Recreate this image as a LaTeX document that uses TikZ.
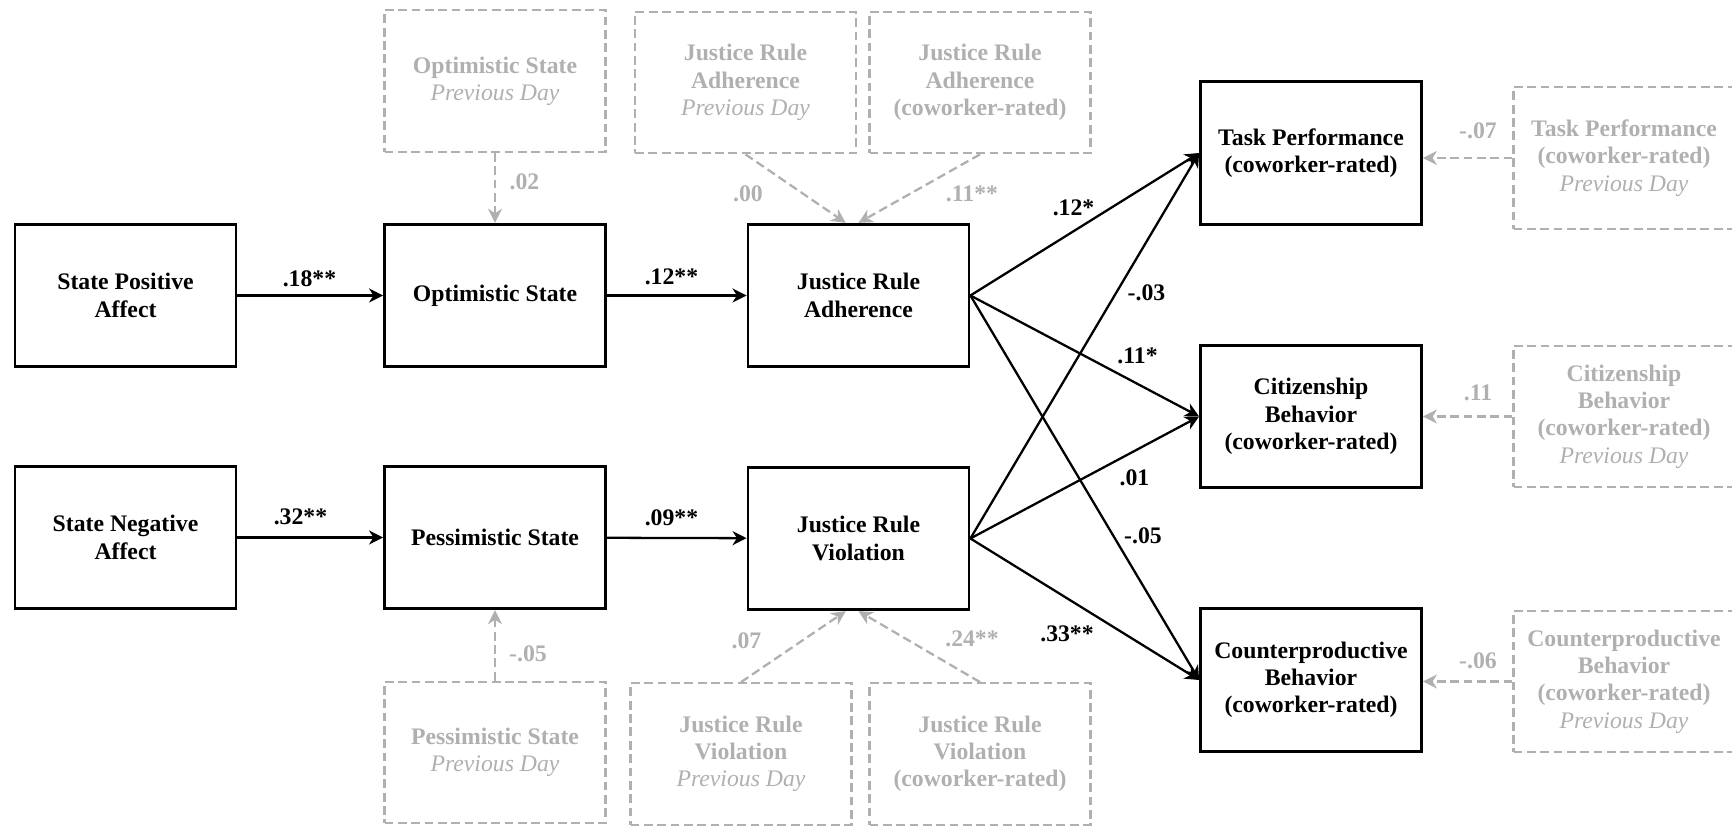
\documentclass[tikz,border=0pt]{standalone}
\usepackage{fontspec}
\setmainfont{Liberation Serif}
\usepackage{xcolor}
\usepackage{tikz}
\usetikzlibrary{positioning,arrows.meta}
\definecolor{laggray}{HTML}{B0B0B0}

\begin{document}
\begin{tikzpicture}[
  font=\fontsize{13.5}{15.5}\selectfont\bfseries,
  var/.style={draw, line width=1.6pt, minimum width=4.42cm, minimum height=2.85cm, align=center, inner sep=2pt},
  lagbox/.style={draw=laggray, text=laggray, line width=1.3pt, dash pattern=on 5pt off 2.6pt, minimum width=4.42cm, minimum height=2.83cm, align=center, inner sep=2pt},
  link/.style={line width=1.3pt, -{Stealth[length=8pt,width=8pt,inset=2.5pt]}},
  laglink/.style={draw=laggray, line width=1.3pt, dash pattern=on 5pt off 2.6pt, -{Stealth[length=8pt,width=8pt,inset=2.5pt]}},
  coef/.style={inner sep=1pt},
  lagcoef/.style={inner sep=1pt, text=laggray}
]
  \useasboundingbox (0,0) rectangle (34.64,16.55);

  % Affect and states
  \node[var] (spa) at (2.51,10.64) {State Positive\\Affect};
  \node[var] (opt) at (9.90,10.64) {Optimistic State};
  \node[var] (sna) at (2.51,5.80) {State Negative\\Affect};
  \node[var] (pess) at (9.90,5.80) {Pessimistic State};

  % Justice rules
  \node[var] (jra) at (17.17,10.64) {Justice Rule\\Adherence};
  \node[var] (jrv) at (17.17,5.78) {Justice Rule\\Violation};

  % Outcomes
  \node[var] (tp) at (26.22,13.49) {Task Performance\\(coworker-rated)};
  \node[var] (cb) at (26.22,8.22) {Citizenship\\Behavior\\(coworker-rated)};
  \node[var] (cp) at (26.22,2.95) {Counterproductive\\Behavior\\(coworker-rated)};

  % Controls
  \node[lagbox] (optprev) at (9.90,14.93) {Optimistic State\\{\mdseries\itshape Previous Day}};
  \node[lagbox] (pessprev) at (9.90,1.50) {Pessimistic State\\{\mdseries\itshape Previous Day}};
  \node[lagbox] (jraprev) at (14.91,14.90) {Justice Rule\\Adherence\\{\mdseries\itshape Previous Day}};
  \node[lagbox] (jracw) at (19.60,14.90) {Justice Rule\\Adherence\\(coworker-rated)};
  \node[lagbox] (jrvprev) at (14.82,1.47) {Justice Rule\\Violation\\{\mdseries\itshape Previous Day}};
  \node[lagbox] (jrvcw) at (19.60,1.47) {Justice Rule\\Violation\\(coworker-rated)};
  \node[lagbox] (tpprev) at (32.48,13.39) {Task Performance\\(coworker-rated)\\{\mdseries\itshape Previous Day}};
  \node[lagbox] (cbprev) at (32.48,8.22) {Citizenship\\Behavior\\(coworker-rated)\\{\mdseries\itshape Previous Day}};
  \node[lagbox] (cpprev) at (32.48,2.92) {Counterproductive\\Behavior\\(coworker-rated)\\{\mdseries\itshape Previous Day}};

  % Main paths
  \draw[link] (spa) -- (opt);
  \draw[link] (opt) -- (jra);
  \draw[link] (sna) -- (pess);
  \draw[link] (pess) -- (jrv);
  \draw[link] (jra.east) -- (tp.west);
  \draw[link] (jra.east) -- (cb.west);
  \draw[link] (jra.east) -- (cp.west);
  \draw[link] (jrv.east) -- (tp.west);
  \draw[link] (jrv.east) -- (cb.west);
  \draw[link] (jrv.east) -- (cp.west);

  % Control paths
  \draw[laglink] (optprev) -- (opt);
  \draw[laglink] (pessprev) -- (pess);
  \draw[laglink] (jraprev.south) -- (jra.100);
  \draw[laglink] (jracw.south) -- (jra.north);
  \draw[laglink] (jrvprev.north) -- (jrv.260);
  \draw[laglink] (jrvcw.north) -- (jrv.south);
  \draw[laglink] (tpprev.west) -- (tpprev.west -| tp.east);
  \draw[laglink] (cbprev.west) -- (cbprev.west -| cb.east);
  \draw[laglink] (cpprev.west) -- (cpprev.west -| cp.east);

  % Coefficients
  \node[coef] (c1) at (6.19,10.98) {.18**};
  \node[coef] (c2) at (13.43,11.02) {.12**};
  \node[coef] (c3) at (6.01,6.21) {.32**};
  \node[coef] (c4) at (13.43,6.19) {.09**};
  \node[coef] (c5) at (21.47,12.39) {.12*};
  \node[coef] (c6) at (22.93,10.69) {-.03};
  \node[coef] (c7) at (22.75,9.43) {.11*};
  \node[coef] (c8) at (22.69,7.00) {.01};
  \node[coef] (c9) at (22.86,5.83) {-.05};
  \node[coef] (c10) at (21.34,3.87) {.33**};

  \node[lagcoef] (g1) at (10.49,12.92) {.02};
  \node[lagcoef] (g2) at (10.56,3.47) {-.05};
  \node[lagcoef] (g3) at (14.96,12.68) {.00};
  \node[lagcoef] (g4) at (19.44,12.68) {.11**};
  \node[lagcoef] (g5) at (14.93,3.73) {.07};
  \node[lagcoef] (g6) at (19.44,3.78) {.24**};
  \node[lagcoef] (g7) at (29.56,13.94) {-.07};
  \node[lagcoef] (g8) at (29.56,8.70) {.11};
  \node[lagcoef] (g9) at (29.56,3.34) {-.06};
\end{tikzpicture}
\end{document}
